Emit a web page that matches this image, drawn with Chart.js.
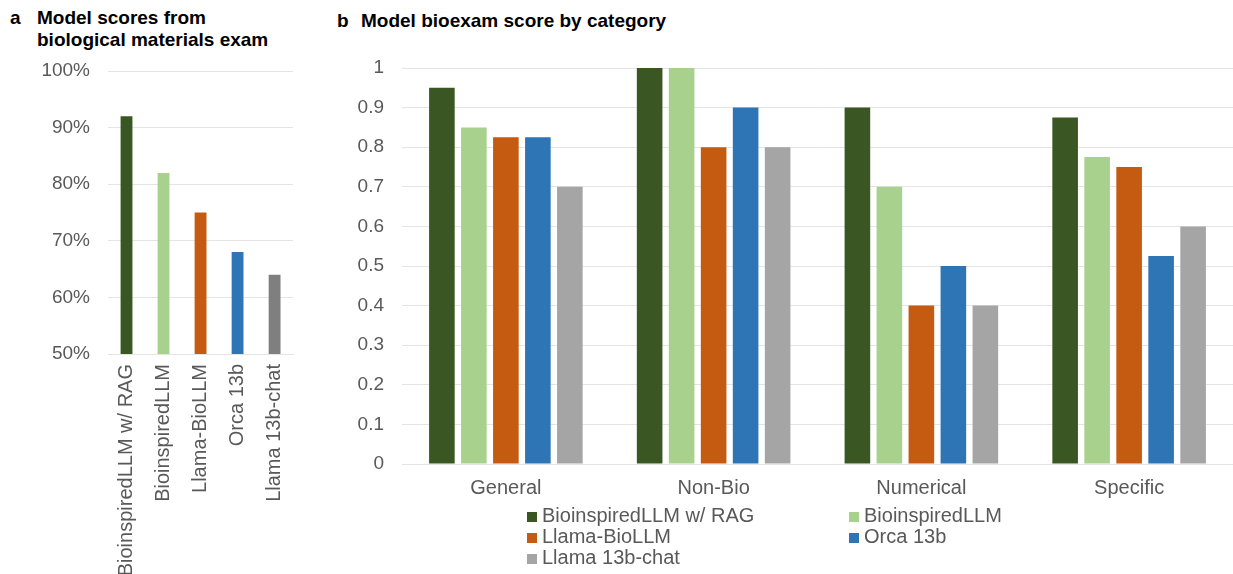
<!DOCTYPE html>
<html lang="en">

<head>
  <meta charset="UTF-8">
  <meta name="viewport" content="width=device-width, initial-scale=1.0">
  <title>Bioexam scores</title>
  <style>
    body {
      margin: 0;
      background: #fff;
      font-family: "Liberation Sans", Arial, sans-serif;
    }

    #wrap {
      position: relative;
      width: 1233px;
      height: 574px;
      overflow: hidden;
    }

    canvas {
      position: absolute;
      top: 0;
    }

    .letra,
    .titulo {
      position: absolute;
      font-weight: bold;
      font-size: 19px;
      line-height: 22px;
      color: #000;
    }

    #leyenda {
      position: absolute;
      left: 527px;
      top: 505px;
      display: grid;
      grid-template-columns: 322px 200px;
      font-size: 20px;
      line-height: 21px;
      color: #595959;
    }

    #leyenda span.caja {
      display: inline-block;
      width: 10px;
      height: 10px;
      margin-right: 5px;
      vertical-align: 0px;
    }
  </style>
</head>

<body>
  <div id="wrap">
    <!-- panel a -->
    <div class="letra" style="left:10px;top:7px;">a</div>
    <div class="titulo" style="left:37px;top:7px;">Model scores from<br>biological materials exam</div>
    <canvas id="graficoA" width="310" height="574" style="left:0px;"></canvas>

    <!-- panel b -->
    <div class="letra" style="left:337px;top:10px;">b</div>
    <div class="titulo" style="left:361px;top:10px;">Model bioexam score by category</div>
    <canvas id="graficoB" width="903" height="574" style="left:330px;"></canvas>
    <div id="leyenda"></div>
  </div>

  <script src="https://cdn.jsdelivr.net/npm/chart.js"></script>

  <script>
    // datos panel a
    const modelos = ['BioinspiredLLM w/ RAG', 'BioinspiredLLM', 'Llama-BioLLM', 'Orca 13b', 'Llama 13b-chat'];
    const puntajeTotal = [92, 82, 75, 68, 64];
    const coloresA = ['#3A5723', '#A9D18E', '#C55A11', '#2E75B6', '#7F7F7F'];
    const ticksA = [50, 60, 70, 80, 90, 100];

    // datos panel b
    const categorias = ['General', 'Non-Bio', 'Numerical', 'Specific'];
    const ragScores = [0.95, 1, 0.9, 0.875];
    const bioScores = [0.85, 1, 0.7, 0.775];
    const llamaBioScores = [0.825, 0.8, 0.4, 0.75];
    const orcaScores = [0.825, 0.9, 0.5, 0.525];
    const llamaChatScores = [0.7, 0.8, 0.4, 0.6];
    const coloresB = ['#3A5723', '#A9D18E', '#C55A11', '#2E75B6', '#A5A5A5'];

    document.addEventListener("DOMContentLoaded", () => {
      Chart.defaults.font.family = '"Liberation Sans", Arial, sans-serif';
      Chart.defaults.font.size = 20;
      Chart.defaults.color = '#595959';

      const gris = '#E4E4E4';

      // Panel a
      new Chart(document.getElementById("graficoA"), {
        type: 'bar',
        data: {
          labels: modelos,
          datasets: [{
            data: puntajeTotal,
            backgroundColor: coloresA,
            categoryPercentage: 1,
            barPercentage: 0.32
          }]
        },
        options: {
          responsive: false,
          animation: false,
          layout: { padding: { top: 71, right: 14, bottom: 0, left: 0 } },
          plugins: { legend: { display: false }, tooltip: { enabled: false } },
          scales: {
            x: {
              grid: { display: false, drawTicks: false },
              border: { display: true, color: gris },
              ticks: { minRotation: 90, maxRotation: 90, padding: 10, autoSkip: false },
              afterFit: (s) => { s.height = 220; }
            },
            y: {
              min: ticksA[0],
              max: ticksA[ticksA.length - 1],
              afterBuildTicks: (s) => { s.ticks = ticksA.map(v => ({ value: v })); },
              grid: { color: gris, drawTicks: false },
              border: { display: false },
              ticks: { padding: 18, font: { size: 19 }, callback: (v) => v + '%' },
              afterFit: (s) => { s.width = 108; }
            }
          }
        }
      });

      // Panel b
      const series = [ragScores, bioScores, llamaBioScores, orcaScores, llamaChatScores];
      const grafico = new Chart(document.getElementById("graficoB"), {
        type: 'bar',
        data: {
          labels: categorias,
          datasets: series.map((d, i) => ({
            label: modelos[i],
            data: d,
            backgroundColor: coloresB[i],
            categoryPercentage: 0.77,
            barPercentage: 0.8
          }))
        },
        options: {
          responsive: false,
          animation: false,
          layout: { padding: { top: 68, right: 0, bottom: 0, left: 0 } },
          plugins: { legend: { display: false }, tooltip: { enabled: false } },
          scales: {
            x: {
              grid: { display: false, drawTicks: false },
              border: { display: true, color: gris },
              ticks: { padding: 12 },
              afterFit: (s) => { s.height = 110; }
            },
            y: {
              min: 0,
              max: 1,
              grid: { color: gris, drawTicks: false },
              border: { display: false },
              ticks: { stepSize: 0.1, padding: 18, font: { size: 19 }, callback: (v) => String(+v.toFixed(1)) },
              afterFit: (s) => { s.width = 72; }
            }
          }
        }
      });

      // leyenda en dos columnas
      const leyenda = document.getElementById("leyenda");
      grafico.data.datasets.forEach(ds => {
        const item = document.createElement("div");
        const caja = document.createElement("span");
        caja.className = "caja";
        caja.style.background = ds.backgroundColor;
        item.appendChild(caja);
        item.appendChild(document.createTextNode(ds.label));
        leyenda.appendChild(item);
      });
    });
  </script>
</body>

</html>
